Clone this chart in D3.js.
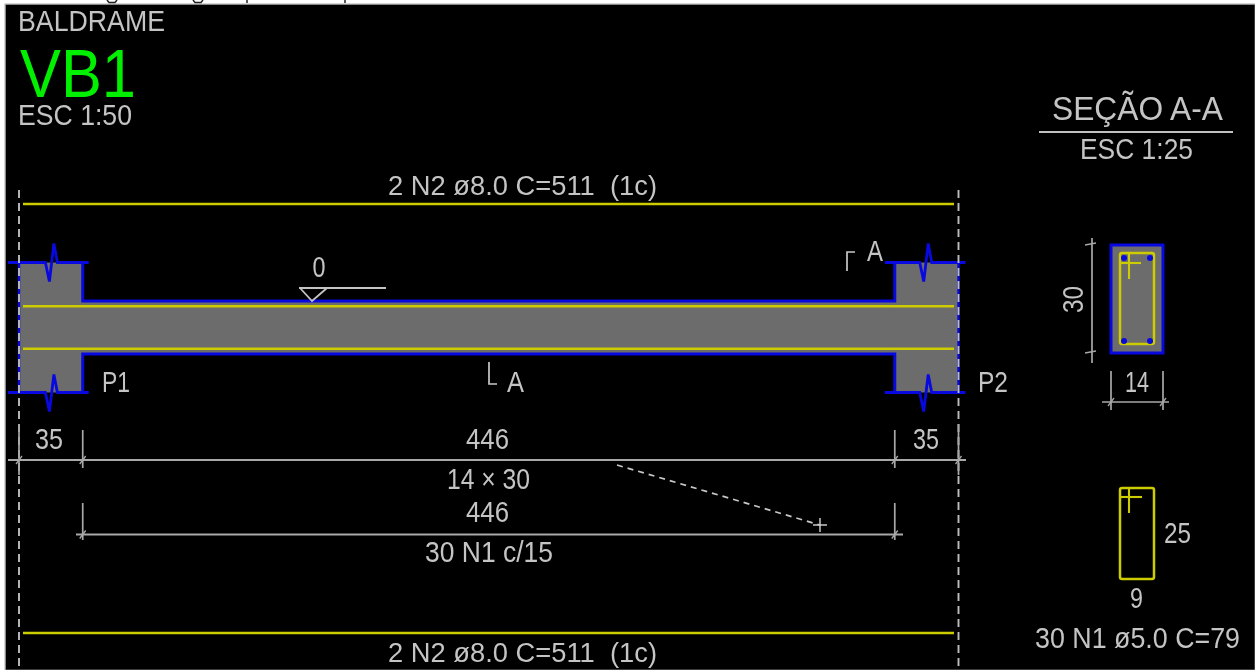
<!DOCTYPE html>
<html><head><meta charset="utf-8">
<script src="https://cdn.jsdelivr.net/npm/d3@7"></script>
<style>html,body{margin:0;padding:0;background:#fff;overflow:hidden}svg{display:block}
text{font-family:"Liberation Sans",Arial,sans-serif;fill:#c4c4c4;white-space:pre}</style></head>
<body><svg id="c" width="1255" height="670"></svg>
<script>
// ---- data (cm) ----
const spans = [35, 446, 35];
const beamSection = [14, 30];
const stirrup = [9, 25];
const pillarAbove = 21.5, pillarBelow = 21.5;
const coverBar = 3;
const beamTitle = "BALDRAME", beamName = "VB1", beamScale = "ESC 1:50";
const sectionTitle = "SEÇÃO A-A", sectionScale = "ESC 1:25";
const topBars = "2 N2 ø8.0 C=511  (1c)", botBars = "2 N2 ø8.0 C=511  (1c)";
const stirrupRun = "30 N1 c/15", stirrupBar = "30 N1 ø5.0 C=79";
const pillars = ["P1", "P2"];
const level = "0", cut = "A";

const GREY="#6c6c6c",BLUE="#0808e0",YEL="#cccc00",DIM="#a8a8a8";
const total = d3.sum(spans);
const edges = d3.cumsum([0,...spans]);
const x = d3.scaleLinear().domain([0,total]).range([19,958.5]);
const y = d3.scaleLinear().domain([0,beamSection[1]]).range([301,354]);
const sx = d3.scaleLinear().domain([0,beamSection[0]]).range([1111,1163]);
const sy = d3.scaleLinear().domain([0,beamSection[1]]).range([245,353]);
const tx = d3.scaleLinear().domain([0,stirrup[0]]).range([1120,1154]);
const ty = d3.scaleLinear().domain([0,stirrup[1]]).range([488,579]);
const line = d3.line();

const svg = d3.select("#c");
// sliver of page content above the drawing
svg.append("rect").attr("x",5.5).attr("y",4.5).attr("width",1250).attr("height",666).attr("fill","#000");
svg.append("rect").attr("x",5).attr("y",4).attr("width",1250).attr("height",666).attr("fill","none").attr("stroke","#999").attr("stroke-width",.8);
[[[107,0],[109,2.5],[115,2.5],[117,0]],[[193,0],[195,2.5],[201,2.5],[203,0]],[[247,0],[247,3]],[[345,0],[345,3]]].forEach(p=>svg.append("path").attr("d",line(p)).attr("fill","none").attr("stroke","#222").attr("stroke-width",1.5));
const g = svg.append("g").style("filter","blur(0.5px)");

function path(pts,c,w,dash){const p=g.append("path").attr("d",line(pts)).attr("fill","none").attr("stroke",c).attr("stroke-width",w);if(dash)p.attr("stroke-dasharray",dash);return p;}
function label(t,cx,base,w,size,col,rot){
  const e=g.append("text").attr("text-anchor","middle").attr("font-size",size).attr("textLength",w).attr("lengthAdjust","spacingAndGlyphs").text(t);
  if(rot) e.attr("transform",`translate(${cx},${base}) rotate(-90)`); else e.attr("x",cx).attr("y",base);
  if(col) e.style("fill",col); return e;
}

// concrete
const pTop=y(-pillarAbove)-.5, pBot=y(beamSection[1]+pillarBelow)+.5;
g.append("rect").attr("x",x(0)).attr("y",y(0)).attr("width",x(total)-x(0)).attr("height",y(beamSection[1])-y(0)).attr("fill",GREY);
[[edges[0],edges[1]],[edges[2],edges[3]]].forEach(([a,b])=>g.append("rect").attr("x",x(a)).attr("y",pTop).attr("width",x(b)-x(a)).attr("height",pBot-pTop).attr("fill",GREY));

// beam and pillar outlines
const W=3;
path([[x(edges[1]),pTop],[x(edges[1]),y(0)],[x(edges[2]),y(0)],[x(edges[2]),pTop]],BLUE,W);
path([[x(edges[1]),pBot],[x(edges[1]),y(beamSection[1])],[x(edges[2]),y(beamSection[1])],[x(edges[2]),pBot]],BLUE,W);
// pillar break lines
[[edges[0]+14.5,-1],[edges[2]+13.7,1]].forEach(([c,side])=>{
  const a=x(c), l=side<0?x(edges[0])-11:x(edges[2])-10, r=side<0?x(edges[1])+6:x(edges[3])+7;
  path([[l,pTop],[a,pTop],[a+4,pTop+19],[a+8.5,pTop-19],[a+12,pTop],[r,pTop]],BLUE,2.8);
  path([[l,pBot],[a,pBot],[a+4,pBot+19],[a+8.5,pBot-18],[a+12,pBot],[r,pBot]],BLUE,2.8);
});
// axes of the pillars: dashed
[edges[0],edges[3]].forEach(c=>{
  path([[x(c),262],[x(c),392]],BLUE,2.4);
  path([[x(c),190],[x(c),670]],"#bdbdbd",1.9,"8 5");
});

// longitudinal bars
const barX=[x(0)+4,x(total)-4.5];
[[204],[y(coverBar)],[y(beamSection[1]-coverBar)],[633]].forEach(([v])=>path(barX.map(d=>[d,v]),YEL,2.6));

// dimension chains
function dimTick(px,a,b,yy){path([[px,a],[px,b]],DIM,1.7);path([[px-3,yy+4],[px+3,yy-4]],DIM,1.3);}
path([[8,460],[966,460]],DIM,2.2);
dimTick(x(edges[0]),424,475,460);dimTick(x(edges[1]),430,468,460);dimTick(x(edges[2]),430,468,460);dimTick(x(edges[3]),424,475,460);
path([[76,534.5],[903,534.5]],DIM,2.2);
dimTick(x(edges[1]),503,540,534.5);dimTick(x(edges[2]),503,540,534.5);
// leader
path([[617,465],[820,525]],"#c8c8c8",1.7,"6 5");
path([[813,525],[827,525]],"#c8c8c8",1.5);path([[820,518],[820,532]],"#c8c8c8",1.5);

// level mark
path([[299,288],[386,288]],"#c4c4c4",2);
path([[300,288],[312,301],[327,288]],"#c4c4c4",1.8);
// cut marks
path([[497,384],[489,384],[489,362]],"#c8c8c8",1.7);
path([[855,252],[847,252],[847,271]],"#c8c8c8",1.7);

// section A-A
g.append("rect").attr("x",sx(0)).attr("y",sy(0)).attr("width",sx(beamSection[0])-sx(0)).attr("height",sy(beamSection[1])-sy(0)).attr("fill",GREY).attr("stroke",BLUE).attr("stroke-width",3);
g.append("rect").attr("x",tx(0)).attr("y",253).attr("width",tx(stirrup[0])-tx(0)).attr("height",91).attr("rx",2).attr("fill","none").attr("stroke",YEL).attr("stroke-width",2.5);
path([[1120,263],[1141,263]],YEL,2.1);path([[1129,253],[1129,279]],YEL,2.1);
[[1124,258],[1150,258],[1124,341],[1150,341]].forEach(([a,b])=>g.append("circle").attr("cx",a).attr("cy",b).attr("r",3).attr("fill",BLUE));
// section dims
path([[1092,238],[1092,363]],DIM,1.7);
path([[1085,245],[1096,243]],DIM,1.4);path([[1085,353],[1096,351]],DIM,1.4);
path([[1102,402],[1169,402]],DIM,1.7);
dimTick(sx(0),371,410,402);dimTick(sx(beamSection[0]),371,410,402);

// stirrup detail
g.append("rect").attr("x",tx(0)).attr("y",ty(0)).attr("width",tx(stirrup[0])-tx(0)).attr("height",ty(stirrup[1])-ty(0)).attr("rx",2).attr("fill","none").attr("stroke",YEL).attr("stroke-width",2.5);
path([[1120,497],[1142,497]],YEL,2.1);path([[1129,488],[1129,513]],YEL,2.1);

// section title rule
path([[1039,132],[1233,132]],"#c0c0c0",2);

// texts
const S=29;
label(beamTitle,91.5,31,147,S);
label(beamName,78,97,116,68,"#00f000");
label(beamScale,75,125,114,S);
label(topBars,522.5,195,269,S-2);
label(botBars,522.5,662,269,S-2);
label(level,319,277,13,S);
label(cut,515.5,392,17,S);label(cut,875,261,16,S);
label(pillars[0],116,392,28,S);label(pillars[1],993,392,30,S);
label(spans[0],49,449,28,S);label(spans[2],926,449,26,S);
label(spans[1],487.5,449,43,S);
label(`${beamSection[0]} × ${beamSection[1]}`,488.5,489,83,S);
label(spans[1],487.5,522,43,S);
label(stirrupRun,489,562,128,S);
label(sectionTitle,1137.5,120,171,33);
label(sectionScale,1136.5,159,113,S);
label(beamSection[1],1083,299.5,27,S,null,true);
label(beamSection[0],1137,392,24,S);
label(stirrup[1],1177.5,543,27,S);
label(stirrup[0],1136.5,608,13,S);
label(stirrupBar,1137.5,648,205,S);
</script></body></html>
